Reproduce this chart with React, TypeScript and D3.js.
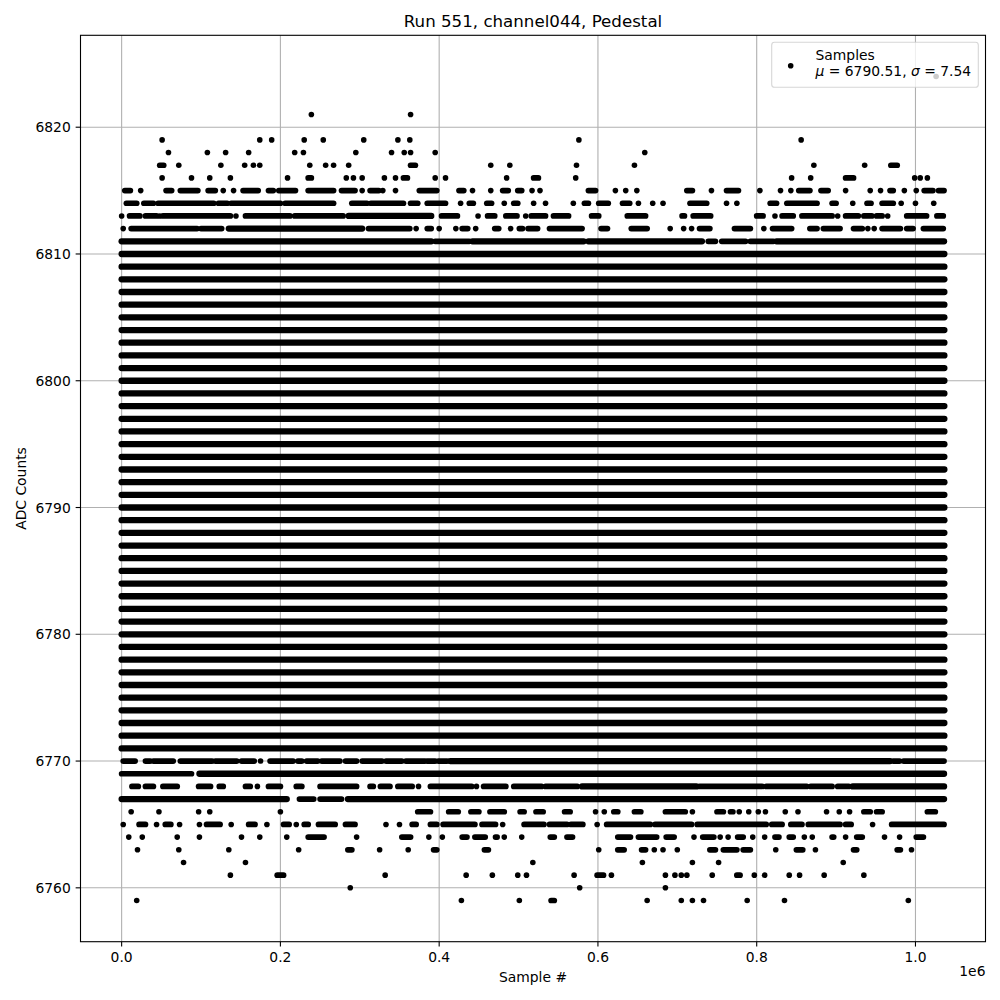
import React from "react";
import * as d3 from "d3";

// ---------- chart text ----------
const titleText = "Run 551, channel044, Pedestal";
const xLabelText = "Sample #";
const yLabelText = "ADC Counts";
const legendLabel = "Samples";
const meanValue = 6790.51;
const sigmaValue = 7.54;
const xOffsetText = "1e6";

// ---------- axes ----------
const xTicks = [0, 200000, 400000, 600000, 800000, 1000000];
const yTicks = [6760, 6770, 6780, 6790, 6800, 6810, 6820];
const firstSample = 0;
const lastSample = 1036400;

// ---------- data ----------
// ADC levels that are filled for the whole run
const fullLevels = [
  6771, 6772, 6773, 6774, 6775, 6776, 6777, 6778, 6779, 6780,
  6781, 6782, 6783, 6784, 6785, 6786, 6787, 6788, 6789, 6790,
  6791, 6792, 6793, 6794, 6795, 6796, 6797, 6798, 6799, 6800,
  6801, 6802, 6803, 6804, 6805, 6806, 6807, 6808, 6809, 6810,
];

// Partly filled levels: sample positions in thousands of samples.
// A single number is an isolated sample, a pair is a run of consecutive hits.
type Run = number | [number, number];
const partialLevels: [number, Run[]][] = [
  [6824, [1026]],
  [6821, [239, 364]],
  [6819, [51, 174, 189, 230, 254, 305, 348, 363, 576, 856]],
  [6818, [59, 108, 131, 160, 218, 229, 295, 340, 356, 364, 395, 659]],
  [6817, [[48, 53], 72, 125, 155, 166, 174, 237, 257, 267, 286, [364, 370], 465, 489, 573, 646, 872, 936, [969, 977]]],
  [6816, [51, 88, 111, 137, 209, [235, 239], 283, 292, 303, 331, 345, [355, 360], 395, 408, 485, [519, 525], 572, 844, 868, [912, 922], 999, 1006, 1015]],
  [6815, [[4, 11], 24, [56, 63], [74, 96], [109, 118], 128, 141, [153, 172], [185, 191], [198, 219], [235, 267], [277, 294], 303, [313, 324], 329, 345, [375, 397], [425, 431], 442, 465, [480, 487], [499, 504], 517, 527, [588, 597], 622, 635, 649, [712, 719], 743, [762, 777], 804, 830, 843, [853, 867], [881, 890], 912, 943, 956, [968, 972], 986, 1001, [1011, 1022], [1029, 1036]]],
  [6814, [[6, 19], [28, 40], [46, 116], [122, 133], [138, 200], [206, 267], [290, 309], [314, 355], [364, 373], [385, 408], 427, [438, 443], [460, 466], 482, [494, 499], 519, 534, 569, [583, 588], [601, 613], [631, 640], 651, 669, 682, [716, 737], 762, 775, [817, 825], [838, 876], [895, 900], 921, [939, 944], [958, 972], 982, 1000, 1023]],
  [6813, [0, [10, 23], [30, 44], 48, [52, 137], 144, [156, 212], [218, 279], [286, 390], [403, 423], 449, [461, 470], [484, 498], 509, [516, 534], [544, 563], [592, 601], [637, 660], [706, 709], [720, 742], [800, 808], 823, [832, 846], [857, 895], 902, [912, 928], [935, 945], [951, 958], 965, [989, 1014], [1027, 1035]]],
  [6812, [2, [12, 95], [100, 126], [135, 303], [311, 363], 371, [385, 390], 400, 421, [429, 436], 446, [470, 475], 490, [501, 505], [512, 524], [539, 580], [604, 612], [642, 662], 691, 708, 718, [728, 741], [772, 792], 809, [820, 844], [867, 876], [884, 905], [922, 933], 940, 948, [958, 981], [989, 997], [1010, 1035]]],
  [6811, [[0, 390], [395, 438], [442, 582], [588, 731], [739, 748], [756, 786], [792, 821], [825, 1036]]],
  [6770, [[2, 17], [30, 36], [40, 65], [74, 114], [118, 145], [151, 167], 175, [187, 216], [222, 227], [233, 247], [252, 275], [282, 296], [303, 328], [333, 353], [358, 382], [385, 395], [399, 410], [414, 968], [972, 980], [985, 1036]]],
  [6769, [[0, 88], [98, 1036]]],
  [6768, [[13, 21], [30, 40], [52, 70], [97, 112], [123, 128], [156, 162], 171, [185, 200], [220, 227], [250, 296], [313, 317], [326, 338], [348, 366], 374, [389, 441], 447, [456, 484], [494, 529], [534, 574], [580, 724], [728, 807], [812, 863], [868, 895], [902, 916], [921, 1036]]],
  [6767, [[0, 208], [224, 242], [250, 277], [285, 1036]]],
  [6766, [12, 47, 97, 111, 200, [373, 389], [412, 424], [440, 450], [464, 482], [502, 507], [522, 531], [558, 565], 597, 608, [620, 625], [646, 654], [685, 710], 719, [750, 758], [767, 770], 778, 790, 802, 811, 836, 852, 888, 904, 917, [935, 943], [951, 958], [1015, 1025]]],
  [6765, [2, [22, 30], 44, [55, 62], 73, 98, [107, 124], 138, [160, 168], 183, [204, 211], 220, [230, 235], [248, 269], [282, 294], 333, 350, [366, 371], [389, 397], [405, 445], [454, 471], 480, [507, 532], [539, 561], [566, 581], 599, [611, 666], [672, 718], [725, 812], [819, 832], [843, 857], [865, 905], [912, 919], 946, [970, 1036]]],
  [6764, [9, 26, 70, 98, 151, 174, 208, [235, 255], 296, [353, 364], 387, 404, [429, 435], [445, 458], [471, 473], 482, 504, [540, 545], [561, 568], [625, 641], [651, 674], [686, 696], 721, [732, 746], 754, 764, [776, 783], 795, 810, [823, 828], [841, 846], 860, 870, [895, 897], 912, [926, 933], 961, 980, [1001, 1010]]],
  [6763, [20, 72, 135, 223, [285, 290], 325, 361, [393, 397], [457, 462], 601, [625, 633], [655, 660], 671, 682, 700, [741, 748], [758, 775], [783, 792], 824, [850, 858], 874, [922, 926], [977, 981], 995]],
  [6762, [78, 156, 518, 656, 719, 752, 909]],
  [6761, [137, [196, 204], 332, 434, 467, 499, 510, 570, [599, 607], 617, 685, 697, 705, 712, 744, [775, 779], 797, 810, 841, 854, 885, 935]],
  [6760, [288, 577, 685]],
  [6759, [19, 428, 501, [541, 545], 662, 705, 719, 733, 788, 835, 991]],
];

// ---------- layout ----------
const W = 1000;
const H = 1000;
const plotLeft = 80.5;
const plotRight = 985.5;
const plotTop = 35.3;
const plotBottom = 941.7;
const FONT = "DejaVu Sans, Verdana, sans-serif";
const tickFont = 13.89;
const markerR = 2.8;
const tickLen = 4.86;

export default function App() {
  const allLevels = [...fullLevels, ...partialLevels.map((d) => d[0])];
  const [yMin, yMax] = d3.extent(allLevels) as [number, number];
  const yPad = (yMax - yMin) * 0.05;
  const xPad = (lastSample - firstSample) * 0.05;

  const x = d3
    .scaleLinear()
    .domain([firstSample - xPad, lastSample + xPad])
    .range([plotLeft, plotRight]);
  const y = d3
    .scaleLinear()
    .domain([yMin - yPad, yMax + yPad])
    .range([plotBottom, plotTop]);

  const segments: { lv: number; a: number; b: number; full: boolean }[] = [];
  const dots: { lv: number; a: number }[] = [];
  fullLevels.forEach((lv) => segments.push({ lv, a: firstSample, b: lastSample, full: true }));
  partialLevels.forEach(([lv, runs]) => {
    runs.forEach((r) => {
      if (Array.isArray(r)) {
        const a = Math.min(r[0] * 1000, lastSample);
        const b = Math.min(r[1] * 1000, lastSample);
        segments.push({ lv, a, b, full: b - a > 100000 });
      } else dots.push({ lv, a: Math.min(r * 1000, lastSample) });
    });
  });

  const fmtX = d3.format(".1f");

  return (
    <svg
      width={W}
      height={H}
      style={{ position: "absolute", left: 0, top: 0, background: "#fff" }}
      fontFamily={FONT}
    >
      <rect x={0} y={0} width={W} height={H} fill="#fff" />
      {/* grid */}
      <g stroke="#b0b0b0" strokeWidth={1.1}>
        {xTicks.map((t) => (
          <line key={"gx" + t} x1={x(t)} x2={x(t)} y1={plotTop} y2={plotBottom} />
        ))}
        {yTicks.map((t) => (
          <line key={"gy" + t} x1={plotLeft} x2={plotRight} y1={y(t)} y2={y(t)} />
        ))}
      </g>
      {/* samples */}
      <g stroke="#000" strokeLinecap="round">
        {segments.map((s, i) => (
          <line
            key={"s" + i}
            x1={x(s.a)}
            x2={x(s.b)}
            y1={y(s.lv)}
            y2={y(s.lv)}
            strokeWidth={s.full ? 6.3 : 5.7}
          />
        ))}
      </g>
      <g fill="#000">
        {dots.map((d, i) => (
          <circle key={"d" + i} cx={x(d.a)} cy={y(d.lv)} r={markerR} />
        ))}
      </g>
      {/* frame */}
      <rect
        x={plotLeft}
        y={plotTop}
        width={plotRight - plotLeft}
        height={plotBottom - plotTop}
        fill="none"
        stroke="#000"
        strokeWidth={1.1}
      />
      {/* x ticks */}
      <g>
        {xTicks.map((t) => (
          <g key={"xt" + t}>
            <line x1={x(t)} x2={x(t)} y1={plotBottom} y2={plotBottom + tickLen} stroke="#000" strokeWidth={1.1} />
            <text x={x(t)} y={962} textAnchor="middle" fontSize={tickFont} fill="#000">
              {fmtX(t / 1e6)}
            </text>
          </g>
        ))}
        <text x={plotRight} y={976} textAnchor="end" fontSize={tickFont} fill="#000">
          {xOffsetText}
        </text>
      </g>
      {/* y ticks */}
      <g>
        {yTicks.map((t) => (
          <g key={"yt" + t}>
            <line x1={plotLeft - tickLen} x2={plotLeft} y1={y(t)} y2={y(t)} stroke="#000" strokeWidth={1.1} />
            <text x={plotLeft - tickLen - 4.9} y={y(t) + 5} textAnchor="end" fontSize={tickFont} fill="#000">
              {t}
            </text>
          </g>
        ))}
      </g>
      {/* labels */}
      <text x={(plotLeft + plotRight) / 2} y={981.5} textAnchor="middle" fontSize={tickFont} fill="#000">
        {xLabelText}
      </text>
      <text
        transform={`translate(26,${(plotTop + plotBottom) / 2}) rotate(-90)`}
        textAnchor="middle"
        fontSize={tickFont}
        fill="#000"
      >
        {yLabelText}
      </text>
      <text x={(plotLeft + plotRight) / 2} y={27} textAnchor="middle" fontSize={16.67} fill="#000">
        {titleText}
      </text>
      {/* legend */}
      <g>
        <rect
          x={771.7}
          y={42.3}
          width={206.6}
          height={45}
          rx={2.8}
          fill="#fff"
          fillOpacity={0.8}
          stroke="#cccccc"
          strokeOpacity={0.8}
          strokeWidth={1.1}
        />
        <circle cx={790.7} cy={65.7} r={markerR} fill="#000" />
        <text x={815.5} y={59.5} fontSize={tickFont} fill="#000">
          {legendLabel}
        </text>
        <text x={815.5} y={75.5} fontSize={tickFont} fill="#000">
          <tspan fontStyle="italic">μ</tspan>
          <tspan>{` = ${meanValue.toFixed(2)}, `}</tspan>
          <tspan fontStyle="italic">σ</tspan>
          <tspan>{` = ${sigmaValue.toFixed(2)}`}</tspan>
        </text>
      </g>
    </svg>
  );
}
